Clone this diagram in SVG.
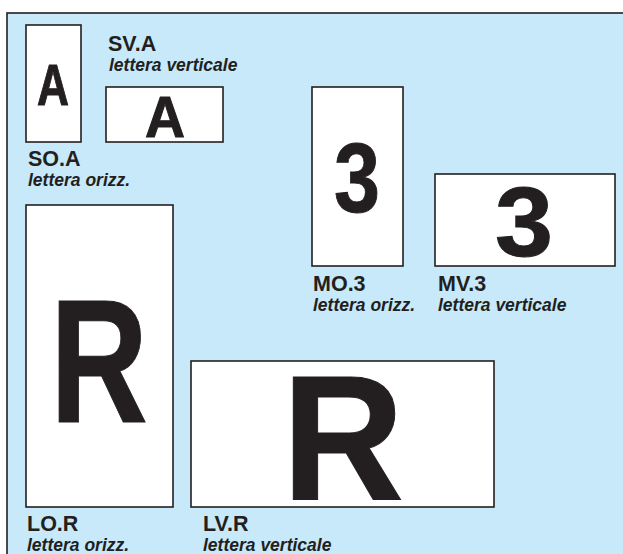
<svg xmlns="http://www.w3.org/2000/svg" width="623" height="554" viewBox="0 0 623 554">
<style>
.bg{fill:#c7e9f9;stroke:#231f20;stroke-width:1.6}
.box{fill:#ffffff;stroke:#231f20;stroke-width:1.6}
.big{font-family:"Liberation Sans",Arial,sans-serif;font-weight:bold;fill:#231f20;text-anchor:middle;stroke:#231f20;stroke-width:1}
.code{font-family:"Liberation Sans",Arial,sans-serif;font-weight:bold;font-size:21.5px;fill:#231f20}
.sub{font-family:"Liberation Sans",Arial,sans-serif;font-weight:bold;font-style:italic;font-size:17.5px;fill:#231f20}
</style>
<rect x="0" y="0" width="623" height="554" fill="#ffffff"/>
<rect class="bg" x="7" y="13" width="630" height="560"/>
<g id="SO-A">
<rect class="box" x="26" y="25" width="55" height="117"/>
<text class="big" x="53" y="105" font-size="58" textLength="32" lengthAdjust="spacingAndGlyphs">A</text>
<text class="code" x="28" y="166">SO.A</text>
<text class="sub" x="28" y="186">lettera orizz.</text>
</g>
<g id="SV-A">
<rect class="box" x="106" y="87" width="117" height="55"/>
<text class="big" x="165" y="137" font-size="58" textLength="40" lengthAdjust="spacingAndGlyphs">A</text>
<text class="code" x="108" y="51">SV.A</text>
<text class="sub" x="109" y="71">lettera verticale</text>
</g>
<g id="MO-3">
<rect class="box" x="312" y="87" width="91" height="179"/>
<text class="big" x="357" y="212" font-size="99" textLength="46" lengthAdjust="spacingAndGlyphs">3</text>
<text class="code" x="313" y="291">MO.3</text>
<text class="sub" x="313" y="311">lettera orizz.</text>
</g>
<g id="MV-3">
<rect class="box" x="435" y="174" width="180" height="92"/>
<text class="big" x="524" y="256" font-size="99" textLength="58" lengthAdjust="spacingAndGlyphs">3</text>
<text class="code" x="438" y="291">MV.3</text>
<text class="sub" x="438" y="311">lettera verticale</text>
</g>
<g id="LO-R">
<rect class="box" x="26" y="205" width="147" height="302"/>
<text class="big" x="99" y="422" font-size="176" textLength="98" lengthAdjust="spacingAndGlyphs">R</text>
<text class="code" x="27" y="531">LO.R</text>
<text class="sub" x="27" y="551">lettera orizz.</text>
</g>
<g id="LV-R">
<rect class="box" x="191" y="361" width="303" height="146"/>
<text class="big" x="343" y="500" font-size="178" textLength="122" lengthAdjust="spacingAndGlyphs">R</text>
<text class="code" x="203" y="531">LV.R</text>
<text class="sub" x="203" y="551">lettera verticale</text>
</g>
<g id="connectors"></g>
</svg>
